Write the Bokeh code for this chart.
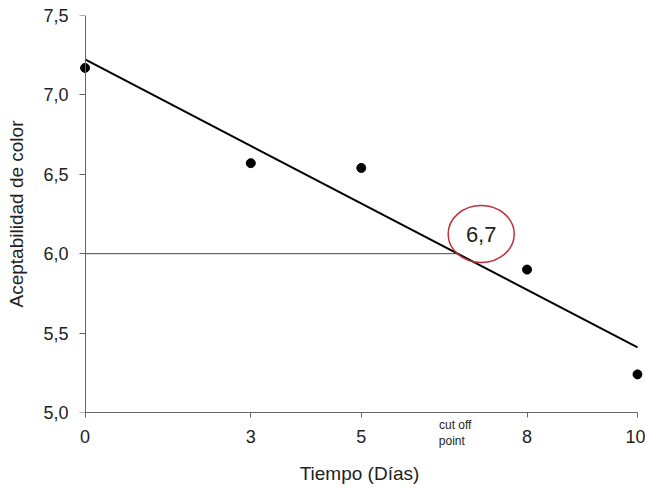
from bokeh.plotting import figure
from bokeh.models import FixedTicker, LinearAxis
from bokeh.core.properties import value
from bokeh.embed import file_html
from bokeh.resources import INLINE

# Data
dias = [0, 3, 5, 8, 10]
aceptabilidad = [7.17, 6.57, 6.54, 5.90, 5.24]
fit_x = [0, 10]
fit_y = [7.223, 5.41]
umbral_y = 6.0
cutoff_x = 6.75
cutoff_tick = 6.7
cutoff_label = "6,7"
x_ticks = [0, 3, 5, 8, 10]
y_ticks = [5.0, 5.5, 6.0, 6.5, 7.0, 7.5]
y_tick_labels = ["5,0", "5,5", "6,0", "6,5", "7,0", "7,5"]

FONT = "Liberation Sans"
AX = "#666666"
TXT = "#222222"

p = figure(frame_width=566, frame_height=397, x_range=(-0.155, 10.09), y_range=(5.0, 7.5),
           min_border_left=76, min_border_right=3, min_border_top=15, min_border_bottom=75,
           output_backend="svg", toolbar_location=None)
p.background_fill_color = "white"
p.border_fill_color = "white"
p.outline_line_color = None
p.grid.visible = False

# x axis (numbers)
xa = p.xaxis[0]
xa.ticker = FixedTicker(ticks=x_ticks)
xa.bounds = (0, 10)
xa.major_tick_in = 0
xa.major_tick_out = 5
xa.minor_tick_line_color = None
xa.axis_line_color = AX
xa.major_tick_line_color = AX
xa.major_label_text_font = FONT
xa.major_label_text_font_size = "18px"
xa.major_label_text_color = TXT
xa.major_label_standoff = 12

# second bottom axis: cut off point label + title
ca = LinearAxis(ticker=FixedTicker(ticks=[cutoff_tick]))
ca.major_label_overrides = {cutoff_tick: "cut off\npoint\u00a0\u00a0"}
ca.axis_line_color = None
ca.major_tick_line_color = None
ca.minor_tick_line_color = None
ca.major_tick_in = 0
ca.major_tick_out = 0
ca.major_label_text_font = FONT
ca.major_label_text_font_size = "12px"
ca.major_label_text_color = TXT
ca.major_label_standoff = -28
ca.axis_label = "Tiempo (Días)"
ca.axis_label_text_font = FONT
ca.axis_label_text_font_size = "19px"
ca.axis_label_text_font_style = "normal"
ca.axis_label_text_color = TXT
ca.axis_label_standoff = 12
p.add_layout(ca, "below")

# y axis (labels and title)
ya = p.yaxis[0]
ya.ticker = FixedTicker(ticks=y_ticks)
ya.major_label_overrides = {t: l for t, l in zip(y_ticks, y_tick_labels)}
ya.axis_line_color = None
ya.major_tick_line_color = None
ya.minor_tick_line_color = None
ya.major_tick_in = 0
ya.major_tick_out = 0
ya.major_label_text_font = FONT
ya.major_label_text_font_size = "18px"
ya.major_label_text_color = TXT
ya.major_label_standoff = 8
ya.axis_label = "Aceptabilidad de color"
ya.axis_label_text_font = FONT
ya.axis_label_text_font_size = "19px"
ya.axis_label_text_font_style = "normal"
ya.axis_label_text_color = TXT
ya.axis_label_standoff = 13

# y axis line and ticks at x = 0
ra = LinearAxis(ticker=FixedTicker(ticks=y_ticks), fixed_location=0, bounds=(5.0, 7.5))
ra.major_label_overrides = {t: "" for t in y_ticks}
ra.major_label_standoff = 0
ra.major_tick_in = 6
ra.major_tick_out = 0
ra.minor_tick_line_color = None
ra.axis_line_color = AX
ra.major_tick_line_color = AX
p.add_layout(ra, "right")

# threshold line
p.line([0, cutoff_x], [umbral_y, umbral_y], line_color="#444444", line_width=1)
# regression line
p.line(fit_x, fit_y, line_color="black", line_width=2)
# points
p.scatter(dias, aceptabilidad, size=9, color="black")

# red ellipse annotation
p.ellipse(x=[7.17], y=[6.124], width=[1.196], height=[0.359], fill_color=None,
          line_color="#c0303a", line_width=1.5)
p.text(x=[7.17], y=[6.124], text=[cutoff_label], text_align="center", text_baseline="middle",
       text_font=value(FONT), text_font_size="22px", text_color=TXT)

open("out.html", "w").write(file_html(p, INLINE))
